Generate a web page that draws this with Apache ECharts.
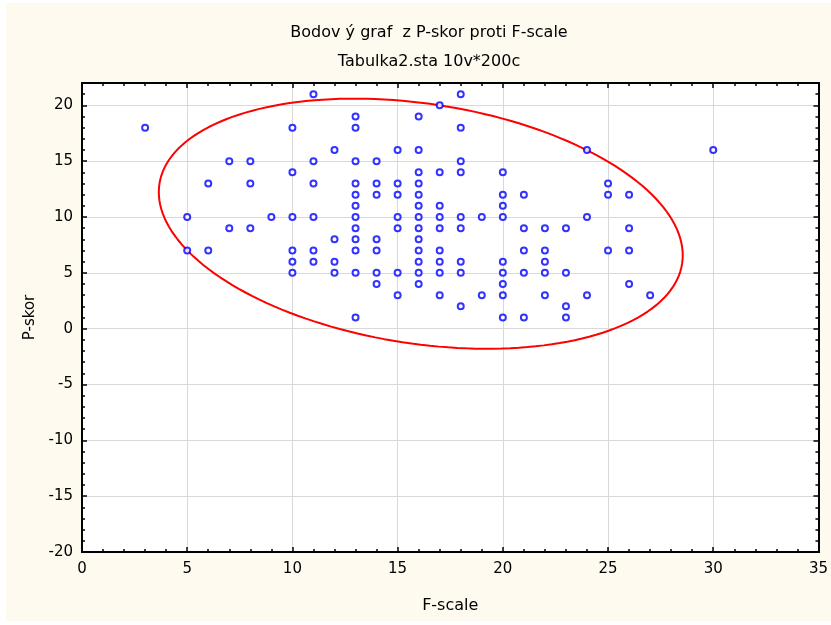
<!DOCTYPE html>
<html>
<head>
<meta charset="utf-8">
<script src="https://cdn.jsdelivr.net/npm/echarts@6/dist/echarts.min.js"></script>
<style>
html,body{margin:0;padding:0;background:#ffffff;}
#chart{position:absolute;left:6px;top:3px;width:825px;height:618px;}
</style>
</head>
<body>
<div id="chart"></div>
<script>
// Scatter data (F-scale, P-skor)
var fScale = [3, 5,5, 6,6, 7,7, 8,8,8, 9,
  10,10,10,10,10,10,
  11,11,11,11,11,11,
  12,12,12,12,
  13,13,13,13,13,13,13,13,13,13,13,13,
  14,14,14,14,14,14,14,
  15,15,15,15,15,15,15,
  16,16,16,16,16,16,16,16,16,16,16,16,16,
  17,17,17,17,17,17,17,17,17,
  18,18,18,18,18,18,18,18,18,
  19,19,
  20,20,20,20,20,20,20,20,20,
  21,21,21,21,21,
  22,22,22,22,22,
  23,23,23,23,
  24,24,24,
  25,25,25,
  26,26,26,26,
  27, 30];
var pSkor = [18, 10,7, 13,7, 15,9, 15,13,9, 10,
  18,14,10,7,6,5,
  21,15,13,10,7,6,
  16,8,6,5,
  19,18,15,13,12,11,10,9,8,7,5,1,
  15,13,12,8,7,5,4,
  16,13,12,10,9,5,3,
  19,16,14,13,12,11,10,9,8,7,6,5,4,
  20,14,11,10,9,7,6,5,3,
  21,18,15,14,10,9,6,5,2,
  10,3,
  14,12,11,10,6,5,4,3,1,
  12,9,7,5,1,
  9,7,6,5,3,
  9,5,2,1,
  16,10,3,
  13,12,7,
  12,9,7,4,
  3, 16];

// Ellipse parameters
var ellipseCenter = [16.1, 9.4];
var ellipseHalfX = 12.45;   // half horizontal extent
var ellipseHalfY = 11.2;    // half vertical extent
var ellipseCorr = -0.2525;  // tilt (correlation)

var xTicks = [0, 35, 5];    // min, max, interval
var yTicks = [-20, 22, 5];

var titleText = 'Bodov ý graf  z P-skor proti F-scale';
var subText = 'Tabulka2.sta 10v*200c';

var points = fScale.map(function (x, i) { return [x, pSkor[i]]; });
var ellipse = [];
var N = 180;
for (var k = 0; k <= N; k++) {
  var t = 2 * Math.PI * k / N;
  ellipse.push([
    ellipseCenter[0] + ellipseHalfX * Math.cos(t),
    ellipseCenter[1] + ellipseHalfY * (ellipseCorr * Math.cos(t) + Math.sqrt(1 - ellipseCorr * ellipseCorr) * Math.sin(t))
  ]);
}

var font = 'DejaVu Sans, Liberation Sans, Arial, sans-serif';
var chart = echarts.init(document.getElementById('chart'));
var baseX = {
  type: 'value', min: xTicks[0], max: xTicks[1], interval: xTicks[2],
  axisLine: { show: true, onZero: false, lineStyle: { color: '#000', width: 2 } },
  axisTick: { show: true, inside: true, length: 5, lineStyle: { color: '#000', width: 1.5 } },
  minorTick: { show: true, splitNumber: 5, length: 3, lineStyle: { color: '#000', width: 1.5 } },
  splitLine: { show: false }
};
function yAxisDef(pos, interval, len, labels, split, name) {
  return {
    type: 'value', position: pos, min: yTicks[0], max: yTicks[1], interval: interval,
    name: name || '', nameLocation: 'middle', nameGap: 44,
    nameTextStyle: { fontFamily: font, fontSize: 15, color: '#000' },
    axisLine: { show: true, onZero: false, lineStyle: { color: '#000', width: 2 } },
    axisTick: { show: true, inside: true, length: len, lineStyle: { color: '#000', width: 1.5 } },
    axisLabel: { show: labels, margin: 9, fontFamily: font, fontSize: 15, color: '#000',
      formatter: function (v) { return (v % 5 === 0) ? String(v) : ''; } },
    splitLine: { show: split, lineStyle: { color: '#d9d9d9', width: 1 } }
  };
}
var option = {
  backgroundColor: '#fefaf0',
  animation: false,
  title: [
    { text: titleText, left: 418, top: 17, textAlign: 'center',
      textStyle: { fontFamily: font, fontSize: 16, fontWeight: 'normal', color: '#000' } },
    { text: subText, left: 418, top: 46, textAlign: 'center',
      textStyle: { fontFamily: font, fontSize: 16, fontWeight: 'normal', color: '#000' } }
  ],
  grid: { left: 76, right: 10, top: 80, bottom: 69, show: true, backgroundColor: '#ffffff', borderWidth: 0 },
  xAxis: [
    Object.assign({}, baseX, {
      position: 'bottom', name: 'F-scale', nameLocation: 'middle', nameGap: 46,
      nameTextStyle: { fontFamily: font, fontSize: 16, color: '#000' },
      axisLabel: { show: true, margin: 10, fontFamily: font, fontSize: 15, color: '#000' },
      splitLine: { show: true, lineStyle: { color: '#d9d9d9', width: 1 } }
    }),
    Object.assign({}, baseX, { position: 'top', axisLabel: { show: false } })
  ],
  yAxis: [
    yAxisDef('left', yTicks[2], 5, true, true, 'P-skor'),
    yAxisDef('left', 1, 3, false, false),
    yAxisDef('right', yTicks[2], 5, false, false),
    yAxisDef('right', 1, 3, false, false)
  ],
  series: [
    {
      type: 'line', data: ellipse, xAxisIndex: 0, yAxisIndex: 0,
      showSymbol: false, symbol: 'none', smooth: false,
      lineStyle: { color: '#ff0000', width: 2 }, z: 2
    },
    {
      type: 'scatter', data: points, xAxisIndex: 0, yAxisIndex: 0,
      symbol: 'emptyCircle', symbolSize: 6,
      itemStyle: { color: '#0000ff', borderColor: '#0000ff', borderWidth: 2 }, z: 3
    }
  ]
};
chart.setOption(option);
</script>
</body>
</html>
